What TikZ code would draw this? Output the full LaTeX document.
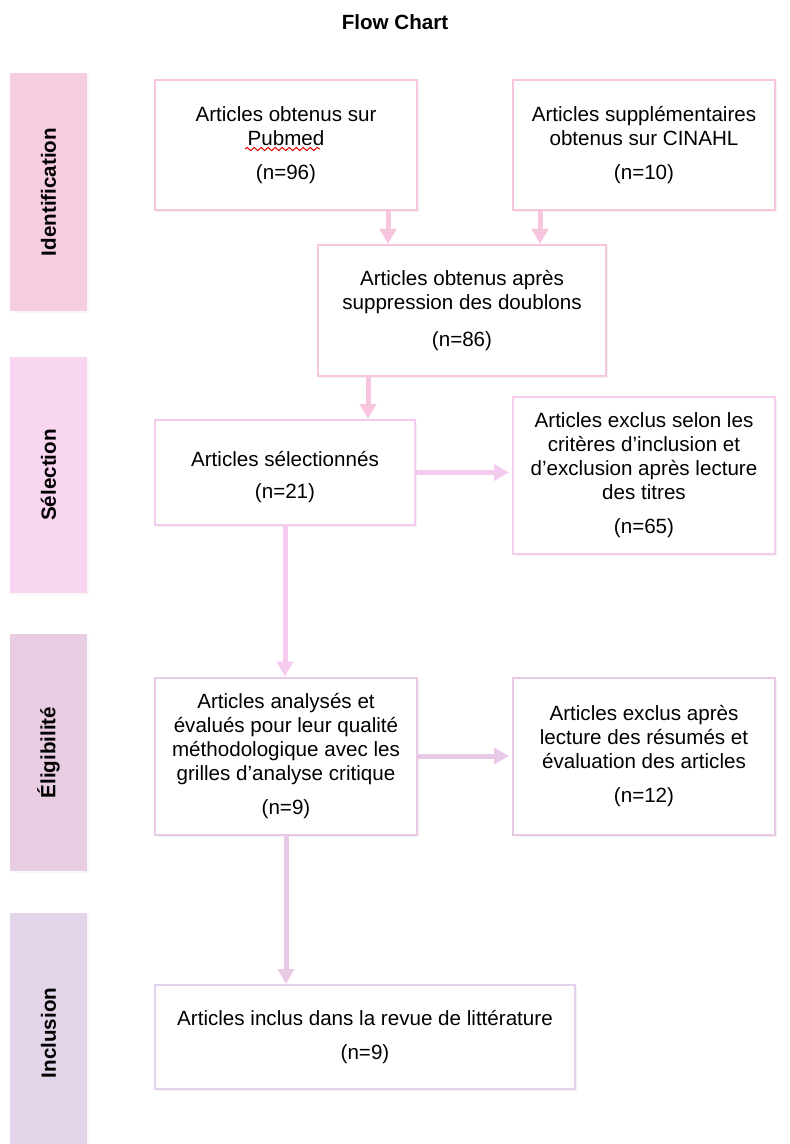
\documentclass[tikz,border=0pt]{standalone}
\usepackage{fontspec}
\setmainfont{Liberation Sans}
\usepackage{tikz}
\usetikzlibrary{
	arrows.meta,
	positioning,
	calc,
	shadows,
	decorations.pathmorphing
}
\usepackage{xcolor}

\definecolor{idfill}{HTML}{F6CCE1}
\definecolor{selfill}{HTML}{F8D6F2}
\definecolor{eligfill}{HTML}{E8CDE2}
\definecolor{incfill}{HTML}{E3D5E9}
\definecolor{idline}{HTML}{F7C6DE}
\definecolor{selline}{HTML}{F6CBF0}
\definecolor{eligline}{HTML}{E9CAE6}
\definecolor{incline}{HTML}{E2D2EB}

\begin{document}
\begin{tikzpicture}[x=0.5pt,y=-0.5pt,
	box/.style={draw,line width=1pt,fill=white,minimum width=131pt,minimum height=65pt,
		inner sep=2pt,align=center,font=\fontsize{10.3}{12}\selectfont,
		drop shadow={opacity=0.10,shadow xshift=1.2pt,shadow yshift=-1.2pt}},
	phase/.style={rotate=90,minimum height=38.5pt,inner sep=0pt,
		font=\fontsize{10.3}{12}\selectfont\bfseries,
		drop shadow={opacity=0.06,shadow xshift=1pt,shadow yshift=-1pt}},
	flow/.style={line width=2.5pt,-{Triangle[width=8pt,length=7.5pt]}}]
	
	\useasboundingbox (0,0) rectangle (790,1144);
	
	% title
	\node[font=\fontsize{10.3}{12}\selectfont\bfseries] (title) at (395,22) {Flow Chart};
	
	% phases
	\node[phase,fill=idfill,minimum width=119pt] (identification) at (48.5,192) {Identification};
	\node[phase,fill=selfill,minimum width=118pt] (selection) at (48.5,475) {Sélection};
	\node[phase,fill=eligfill,minimum width=118.5pt] (eligibilite) at (48.5,752.5) {Éligibilité};
	\node[phase,fill=incfill,minimum width=120pt] (inclusion) at (48.5,1033) {Inclusion};
	
	% identification
	\node[box,draw=idline] (pubmed) at (286,145) {Articles obtenus sur\\Pubmed\\[5pt](n=96)};
	\node[box,draw=idline] (cinahl) at (644,145) {Articles supplémentaires\\obtenus sur CINAHL\\[5pt](n=10)};
	\node[box,draw=idline,minimum width=144pt,minimum height=65.5pt] (doublons) at (462,310.5)
		{Articles obtenus après\\suppression des doublons\\[6.5pt](n=86)};
	
	\draw[red!90!black,line width=0.5pt,decorate,decoration={snake,amplitude=0.8pt,segment length=3.5pt}]
		(245,149) -- (320,149);
	
	\draw[flow,idline] ([xshift=51pt]pubmed.south) -- ([xshift=51pt]pubmed.south |- doublons.north);
	\draw[flow,idline] ([xshift=-52pt]cinahl.south) -- ([xshift=-52pt]cinahl.south |- doublons.north);
	
	% selection
	\node[box,draw=selline,minimum width=130pt,minimum height=52.5pt] (selectionnes) at (285,472.5)
		{\rule{0pt}{12pt}Articles sélectionnés\\[4pt](n=21)};
	\node[box,draw=selline,minimum height=78.5pt] (exclustitres) at (644,475.5)
		{Articles exclus selon les\\critères d’inclusion et\\d’exclusion après lecture\\des titres\\[5pt](n=65)};
	
	\draw[flow,idline] ([xshift=-47pt]doublons.south) -- ([xshift=-47pt]doublons.south |- selectionnes.north);
	\draw[flow,selline] (selectionnes.east) -- ([xshift=-1.5pt]selectionnes.east -| exclustitres.west);
	
	% eligibilite
	\node[box,draw=eligline,minimum height=78.5pt] (analyses) at (286,756)
		{Articles analysés et\\évalués pour leur qualité\\méthodologique avec les\\grilles d’analyse critique\\[5pt](n=9)};
	\node[box,draw=eligline,minimum height=78.5pt] (exclusresumes) at (644,756)
		{Articles exclus après\\lecture des résumés et\\évaluation des articles\\[5pt](n=12)};
	
	\draw[flow,selline] (selectionnes.south) -- (selectionnes.south |- analyses.north);
	\draw[flow,eligline] (analyses.east) -- ([xshift=-1.5pt]exclusresumes.west);
	
	% inclusion
	\node[box,draw=incline,minimum width=210pt,minimum height=52pt] (inclus) at (365,1037)
		{Articles inclus dans la revue de littérature\\[5pt](n=9)};
	
	\draw[flow,eligline] (analyses.south) -- (analyses.south |- inclus.north);
	
\end{tikzpicture}
\end{document}
